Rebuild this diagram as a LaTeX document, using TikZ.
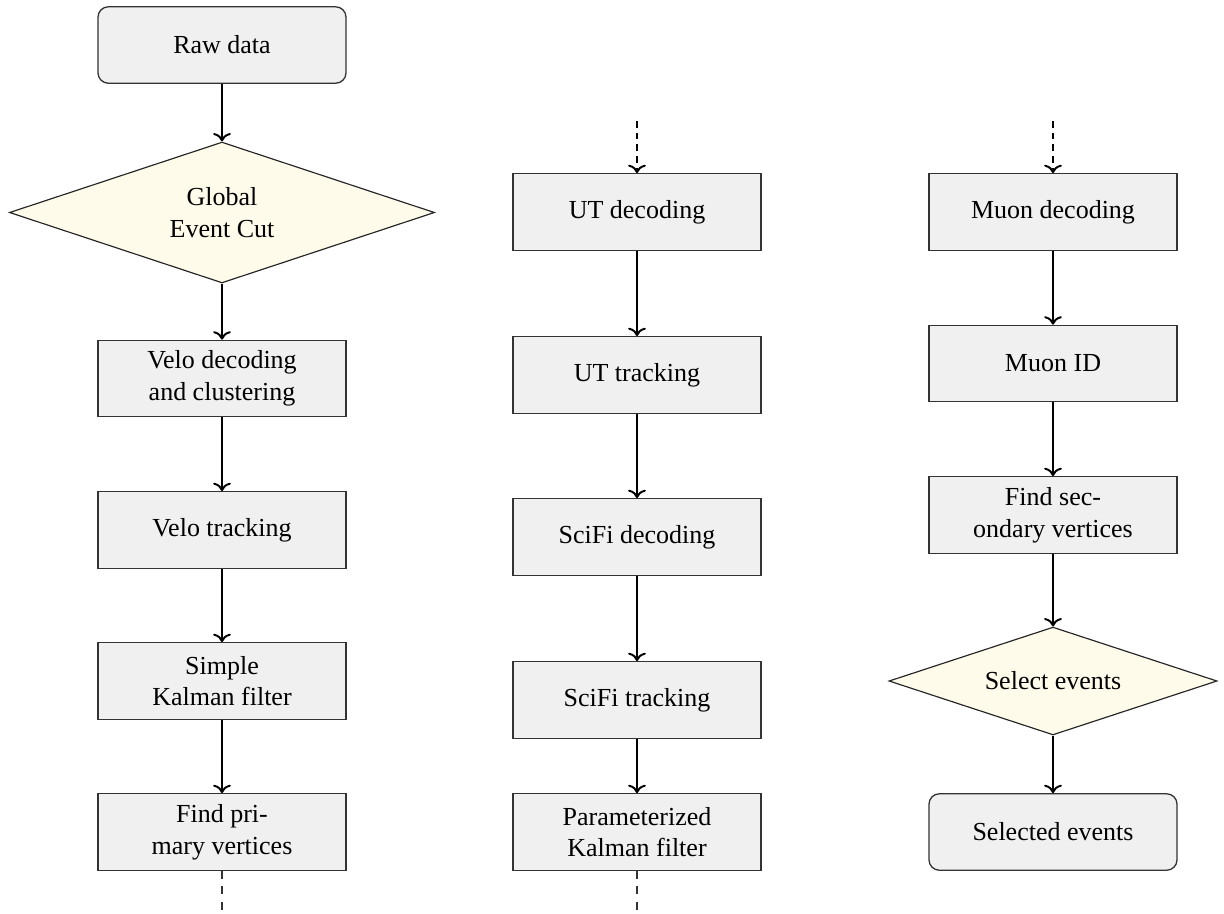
\documentclass[tikz,border=0pt]{standalone}
\usepackage{fontspec}
\setmainfont{Liberation Serif}
\usetikzlibrary{shapes.geometric,arrows.meta}
\definecolor{boxfill}{RGB}{240,240,240}
\definecolor{decfill}{RGB}{254,251,234}
\tikzset{
  every node/.style={font=\fontsize{10}{12.2}\selectfont, align=center},
  procbox/.style={draw=black!80, line width=0.5pt, fill=boxfill, rectangle,
    minimum width=95.4pt, minimum height=29.4pt, inner sep=0pt},
  termbox/.style={procbox, rounded corners=4pt},
  decbox/.style={draw=black!85, line width=0.45pt, fill=decfill, diamond,
    inner sep=0pt, aspect=3},
  flow/.style={->, line width=0.75pt},
  dflow/.style={->, line width=0.75pt, dash pattern=on 2.6pt off 1.9pt},
  cont/.style={line width=0.45pt, black!80, dash pattern=on 3pt off 3pt}
}
\begin{document}
\begin{tikzpicture}[x=0.3846pt, y=-0.3846pt]
\path[use as bounding box] (0,0) rectangle (1224,913);
% column 1
\node[termbox] (raw) at (222,45) {Raw data};
\node[decbox, minimum width=163.5pt, minimum height=54.2pt] (gec) at (222,212.5) {Global\\Event Cut};
\node[procbox] (vdec) at (222,378.5) {Velo decoding\\and clustering};
\node[procbox] (vtrk) at (222,530) {Velo tracking};
\node[procbox] (skf) at (222,681) {Simple\\Kalman filter};
\node[procbox] (pv) at (222,832) {Find pri-\\mary vertices};
\coordinate (pvend) at (222,913);
% column 2
\coordinate (utstart) at (637,121);
\node[procbox] (utdec) at (637,212) {UT decoding};
\node[procbox] (uttrk) at (637,375) {UT tracking};
\node[procbox] (sfdec) at (637,537) {SciFi decoding};
\node[procbox] (sftrk) at (637,700) {SciFi tracking};
\node[procbox] (pkf) at (637,832) {Parameterized\\Kalman filter};
\coordinate (pkfend) at (637,913);
% column 3
\coordinate (mustart) at (1053,121);
\node[procbox] (mudec) at (1053,212) {Muon decoding};
\node[procbox] (muid) at (1053,363.5) {Muon ID};
\node[procbox] (sv) at (1053,515) {Find sec-\\ondary vertices};
\node[decbox, minimum width=126.2pt, minimum height=41.5pt] (sel) at (1053,681) {Select events};
\node[termbox] (out) at (1053,832) {Selected events};
% connectors
\draw[flow] (raw) -- (gec);
\draw[flow] (gec) -- (vdec);
\draw[flow] (vdec) -- (vtrk);
\draw[flow] (vtrk) -- (skf);
\draw[flow] (skf) -- (pv);
\draw[cont] (pv) -- (pvend);
\draw[dflow] (utstart) -- (utdec);
\draw[flow] (utdec) -- (uttrk);
\draw[flow] (uttrk) -- (sfdec);
\draw[flow] (sfdec) -- (sftrk);
\draw[flow] (sftrk) -- (pkf);
\draw[cont] (pkf) -- (pkfend);
\draw[dflow] (mustart) -- (mudec);
\draw[flow] (mudec) -- (muid);
\draw[flow] (muid) -- (sv);
\draw[flow] (sv) -- (sel);
\draw[flow] (sel) -- (out);
\end{tikzpicture}
\end{document}
